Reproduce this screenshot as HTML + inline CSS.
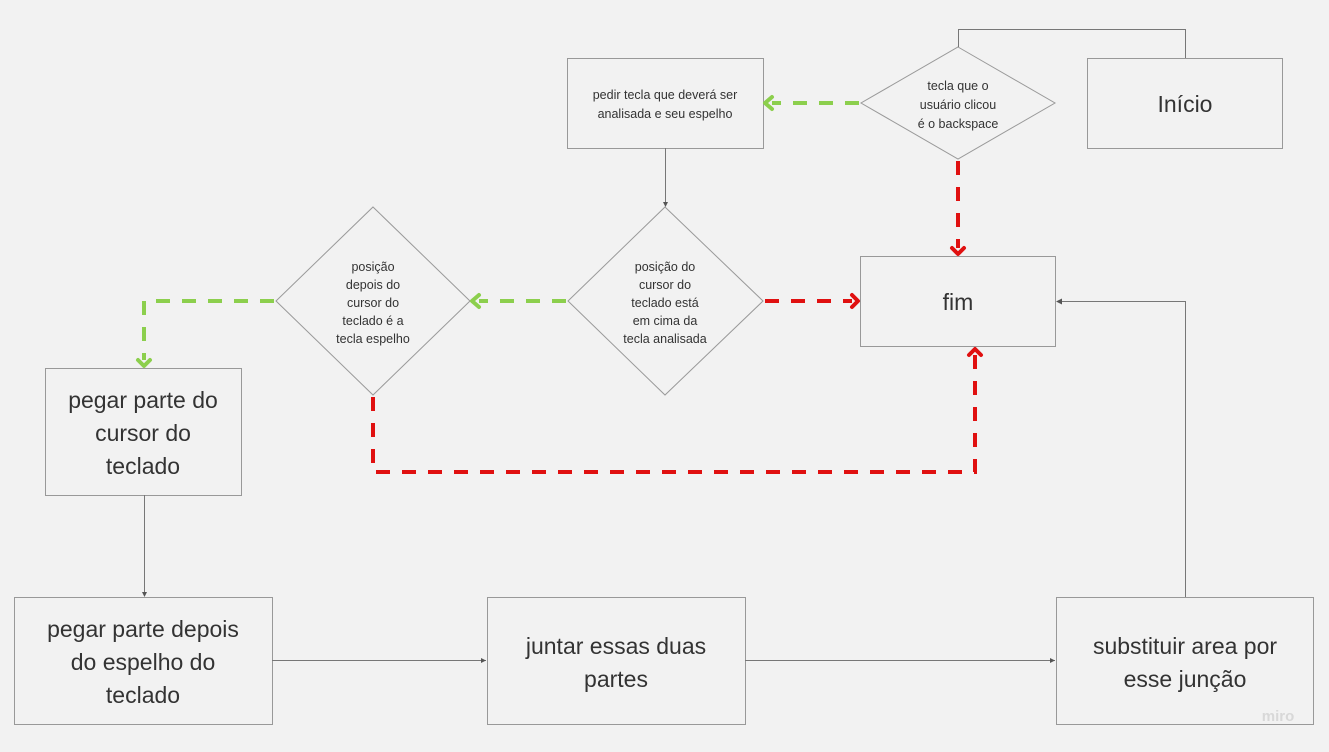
<!DOCTYPE html>
<html><head><meta charset="utf-8"><style>
html,body{margin:0;padding:0;background:#f2f2f2;}
svg{display:block;}
text{font-family:"Liberation Sans",sans-serif;fill:#333;text-anchor:middle;}
.s{font-size:12.5px;}
.b{font-size:23px;}
</style></head><body>
<svg width="1329" height="752" viewBox="0 0 1329 752" xmlns="http://www.w3.org/2000/svg">
<rect width="1329" height="752" fill="#f2f2f2"/>
<g fill="none" stroke="#999" stroke-width="1">
<rect x="567.5" y="58.5" width="196" height="90"/>
<rect x="1087.5" y="58.5" width="195" height="90"/>
<rect x="860.5" y="256.5" width="195" height="90"/>
<rect x="45.5" y="368.5" width="196" height="127"/>
<rect x="14.5" y="597.5" width="258" height="127"/>
<rect x="487.5" y="597.5" width="258" height="127"/>
<rect x="1056.5" y="597.5" width="257" height="127"/>
<polygon points="958,47 1055,103 958,159 861,103"/>
<polygon points="665,207 763,301 665,395 568,301"/>
<polygon points="373,207 470,301 373,395 276,301"/>
</g>
<g fill="none" stroke="#777" stroke-width="1">
<polyline points="1185.5,58 1185.5,29.5 958.5,29.5 958.5,47"/>
<line x1="665.5" y1="148" x2="665.5" y2="206"/>
<line x1="144.5" y1="495" x2="144.5" y2="596"/>
<line x1="272" y1="660.5" x2="486" y2="660.5"/>
<line x1="745" y1="660.5" x2="1055" y2="660.5"/>
<polyline points="1185.5,597 1185.5,301.5 1057,301.5"/>
</g>
<g fill="#555">
<polygon points="1056,301.5 1062,298.5 1062,304.5"/>
<polygon points="486,660.5 481,658 481,663"/>
<polygon points="1055,660.5 1050,658 1050,663"/>
<polygon points="144.5,597 142,592 147,592"/>
<polygon points="665.5,207 663,202 668,202"/>
</g>
<g fill="none" stroke-width="4" stroke-dasharray="14,12">
<line x1="859" y1="103" x2="772" y2="103" stroke="#8ccf4d"/>
<line x1="566" y1="301" x2="479" y2="301" stroke="#8ccf4d"/>
<polyline points="274,301 144,301 144,360" stroke="#8ccf4d"/>
<line x1="958" y1="161" x2="958" y2="248" stroke="#e01010"/>
<line x1="765" y1="301" x2="852" y2="301" stroke="#e01010"/>
<polyline points="373,397 373,472 975,472 975,355" stroke="#e01010"/>
</g>
<g fill="none" stroke-width="4" stroke-linecap="round" stroke-linejoin="round">
<polyline points="772,97 765,103 772,109" stroke="#8ccf4d"/>
<polyline points="479,295 472,301 479,307" stroke="#8ccf4d"/>
<polyline points="138,360 144,366 150,360" stroke="#8ccf4d"/>
<polyline points="952,248 958,254 964,248" stroke="#e01010"/>
<polyline points="852,295 858,301 852,307" stroke="#e01010"/>
<polyline points="969,355 975,349 981,355" stroke="#e01010"/>
</g>
<text class="s" x="665" y="99">pedir tecla que deverá ser</text>
<text class="s" x="665" y="118">analisada e seu espelho</text>
<text class="s" x="958" y="90">tecla que o</text>
<text class="s" x="958" y="109">usuário clicou</text>
<text class="s" x="958" y="128">é o backspace</text>
<text class="b" x="1185" y="112">Início</text>
<text class="b" x="958" y="310">fim</text>
<text class="s" x="665" y="271">posição do</text>
<text class="s" x="665" y="289">cursor do</text>
<text class="s" x="665" y="307">teclado está</text>
<text class="s" x="665" y="325">em cima da</text>
<text class="s" x="665" y="343">tecla analisada</text>
<text class="s" x="373" y="271">posição</text>
<text class="s" x="373" y="289">depois do</text>
<text class="s" x="373" y="307">cursor do</text>
<text class="s" x="373" y="325">teclado é a</text>
<text class="s" x="373" y="343">tecla espelho</text>
<text class="b" x="143" y="408">pegar parte do</text>
<text class="b" x="143" y="441">cursor do</text>
<text class="b" x="143" y="474">teclado</text>
<text class="b" x="143" y="637">pegar parte depois</text>
<text class="b" x="143" y="670">do espelho do</text>
<text class="b" x="143" y="703">teclado</text>
<text class="b" x="616" y="654">juntar essas duas</text>
<text class="b" x="616" y="687">partes</text>
<text class="b" x="1185" y="654">substituir area por</text>
<text class="b" x="1185" y="687">esse junção</text>
<text x="1278" y="721" style="font-size:15px;font-weight:bold;fill:#d8d8d8;">miro</text>
</svg>
</body></html>
